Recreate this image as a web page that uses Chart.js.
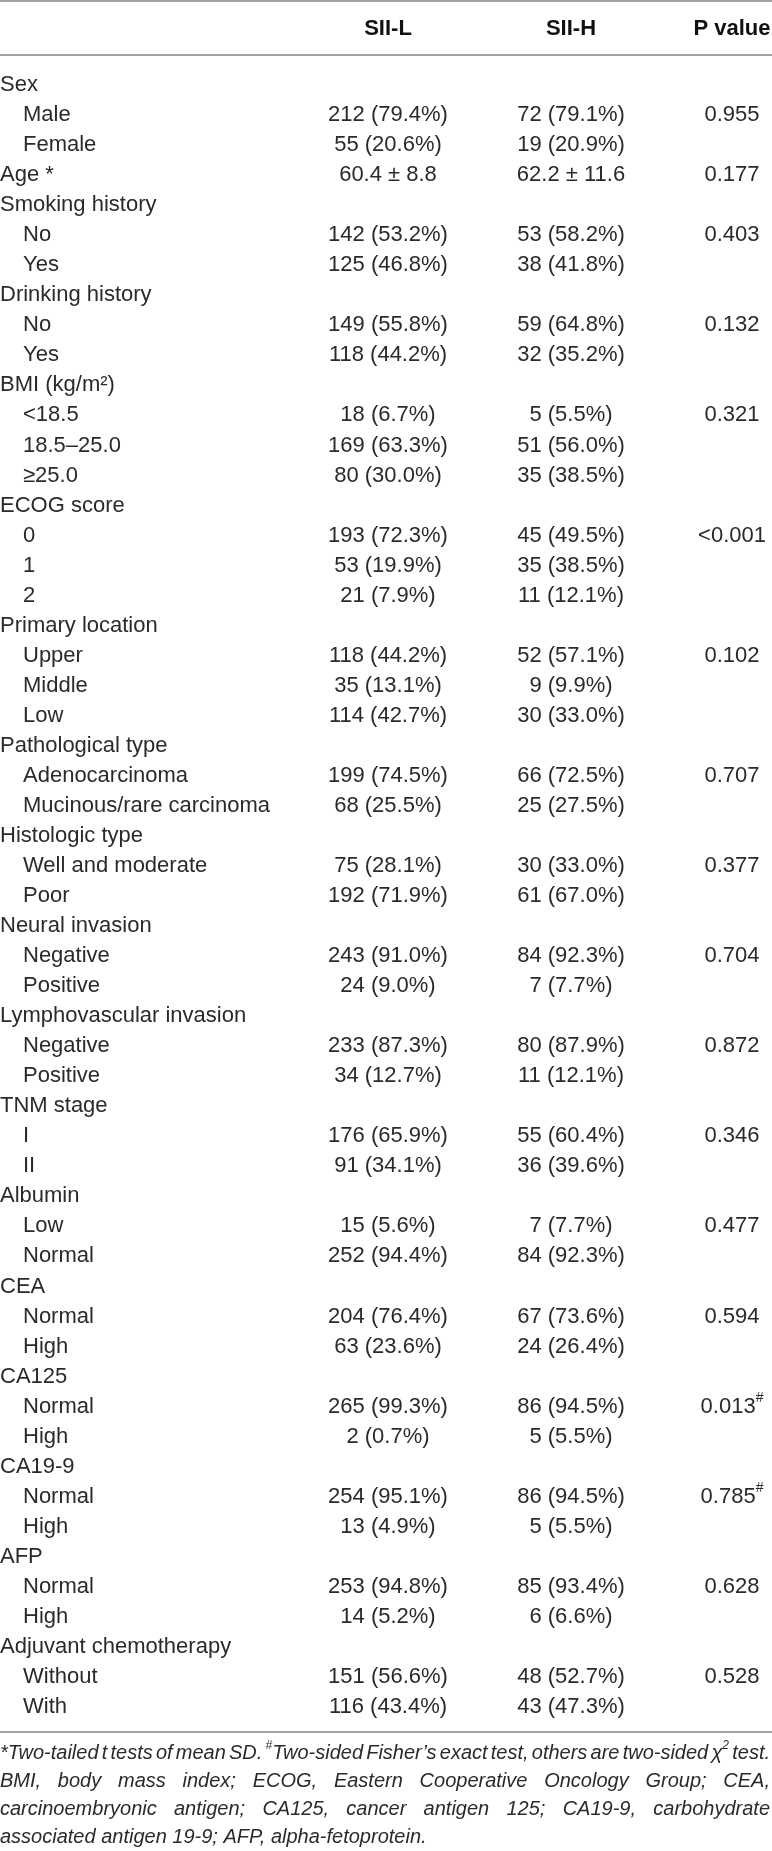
<!DOCTYPE html>
<html>
<head>
<meta charset="utf-8">
<script src="https://cdn.jsdelivr.net/npm/chart.js@4"></script>
<style>
  html, body { margin: 0; padding: 0; background: #fff; }
  canvas { display: block; }
</style>
</head>
<body>
<canvas id="tabela" width="772" height="1851"></canvas>
<script>
// column headers
const headers = ['SII-L', 'SII-H', 'P value'];

// first column (variables and their levels)
const rowLabels = [
  'Sex', 'Male', 'Female', 'Age *',
  'Smoking history', 'No', 'Yes',
  'Drinking history', 'No', 'Yes',
  'BMI (kg/m²)', '<18.5', '18.5–25.0', '≥25.0',
  'ECOG score', '0', '1', '2',
  'Primary location', 'Upper', 'Middle', 'Low',
  'Pathological type', 'Adenocarcinoma', 'Mucinous/rare carcinoma',
  'Histologic type', 'Well and moderate', 'Poor',
  'Neural invasion', 'Negative', 'Positive',
  'Lymphovascular invasion', 'Negative', 'Positive',
  'TNM stage', 'I', 'II',
  'Albumin', 'Low', 'Normal',
  'CEA', 'Normal', 'High',
  'CA125', 'Normal', 'High',
  'CA19-9', 'Normal', 'High',
  'AFP', 'Normal', 'High',
  'Adjuvant chemotherapy', 'Without', 'With'
];

// levels are indented under their variable
const subRow = [
  false, true, true, false,
  false, true, true,
  false, true, true,
  false, true, true, true,
  false, true, true, true,
  false, true, true, true,
  false, true, true,
  false, true, true,
  false, true, true,
  false, true, true,
  false, true, true,
  false, true, true,
  false, true, true,
  false, true, true,
  false, true, true,
  false, true, true,
  false, true, true
];

const siiL = [
  '', '212 (79.4%)', '55 (20.6%)', '60.4 ± 8.8',
  '', '142 (53.2%)', '125 (46.8%)',
  '', '149 (55.8%)', '118 (44.2%)',
  '', '18 (6.7%)', '169 (63.3%)', '80 (30.0%)',
  '', '193 (72.3%)', '53 (19.9%)', '21 (7.9%)',
  '', '118 (44.2%)', '35 (13.1%)', '114 (42.7%)',
  '', '199 (74.5%)', '68 (25.5%)',
  '', '75 (28.1%)', '192 (71.9%)',
  '', '243 (91.0%)', '24 (9.0%)',
  '', '233 (87.3%)', '34 (12.7%)',
  '', '176 (65.9%)', '91 (34.1%)',
  '', '15 (5.6%)', '252 (94.4%)',
  '', '204 (76.4%)', '63 (23.6%)',
  '', '265 (99.3%)', '2 (0.7%)',
  '', '254 (95.1%)', '13 (4.9%)',
  '', '253 (94.8%)', '14 (5.2%)',
  '', '151 (56.6%)', '116 (43.4%)'
];

const siiH = [
  '', '72 (79.1%)', '19 (20.9%)', '62.2 ± 11.6',
  '', '53 (58.2%)', '38 (41.8%)',
  '', '59 (64.8%)', '32 (35.2%)',
  '', '5 (5.5%)', '51 (56.0%)', '35 (38.5%)',
  '', '45 (49.5%)', '35 (38.5%)', '11 (12.1%)',
  '', '52 (57.1%)', '9 (9.9%)', '30 (33.0%)',
  '', '66 (72.5%)', '25 (27.5%)',
  '', '30 (33.0%)', '61 (67.0%)',
  '', '84 (92.3%)', '7 (7.7%)',
  '', '80 (87.9%)', '11 (12.1%)',
  '', '55 (60.4%)', '36 (39.6%)',
  '', '7 (7.7%)', '84 (92.3%)',
  '', '67 (73.6%)', '24 (26.4%)',
  '', '86 (94.5%)', '5 (5.5%)',
  '', '86 (94.5%)', '5 (5.5%)',
  '', '85 (93.4%)', '6 (6.6%)',
  '', '48 (52.7%)', '43 (47.3%)'
];

// ^ marks a superscript character
const pValues = [
  '', '0.955', '', '0.177',
  '', '0.403', '',
  '', '0.132', '',
  '', '0.321', '', '',
  '', '<0.001', '', '',
  '', '0.102', '', '',
  '', '0.707', '',
  '', '0.377', '',
  '', '0.704', '',
  '', '0.872', '',
  '', '0.346', '',
  '', '0.477', '',
  '', '0.594', '',
  '', '0.013^#', '',
  '', '0.785^#', '',
  '', '0.628', '',
  '', '0.528', ''
];

const footnotes = [
  '*Two-tailed t tests of mean SD. ^#Two-sided Fisher’s exact test, others are two-sided χ^2 test.',
  'BMI, body mass index; ECOG, Eastern Cooperative Oncology Group; CEA,',
  'carcinoembryonic antigen; CA125, cancer antigen 125; CA19-9, carbohydrate',
  'associated antigen 19-9; AFP, alpha-fetoprotein.'
];

// layout
const W = 772;
const colX = { label: 0, siiL: 388, siiH: 571, p: 732 };
const INDENT = 23;
const FONT = '"Liberation Sans", Arial, Helvetica, sans-serif';
const COR_TEXTO = '#2a2a2a';
const COR_LINHA = '#a3a3a3';

function partes(texto) {
  const out = [];
  for (let i = 0; i < texto.length; i++) {
    if (texto[i] === '^' && i + 1 < texto.length) {
      out.push({ t: texto[i + 1], sup: true });
      i++;
    } else if (out.length && !out[out.length - 1].sup) {
      out[out.length - 1].t += texto[i];
    } else {
      out.push({ t: texto[i], sup: false });
    }
  }
  return out;
}

function fonte(size, estilo, sup) {
  return estilo + ' ' + (sup ? Math.round(size * 0.62) : size) + 'px ' + FONT;
}

function medir(ctx, texto, size, estilo) {
  let w = 0;
  partes(texto).forEach(function (p) {
    ctx.font = fonte(size, estilo, p.sup);
    w += ctx.measureText(p.t).width;
  });
  return w;
}

function escrever(ctx, texto, x, y, align, size, estilo) {
  const w = medir(ctx, texto, size, estilo);
  let cx = align === 'center' ? x - w / 2 : (align === 'right' ? x - w : x);
  ctx.textBaseline = 'middle';
  ctx.textAlign = 'left';
  partes(texto).forEach(function (p) {
    ctx.font = fonte(size, estilo, p.sup);
    ctx.fillText(p.t, cx, p.sup ? y - size * 0.38 : y);
    cx += ctx.measureText(p.t).width;
  });
}

function escreverJustificado(ctx, texto, x, y, largura, size, estilo) {
  const palavras = texto.split(' ');
  const larguras = palavras.map(function (p) { return medir(ctx, p, size, estilo); });
  const soma = larguras.reduce(function (a, b) { return a + b; }, 0);
  const gap = (largura - soma) / (palavras.length - 1);
  let cx = x;
  palavras.forEach(function (p, i) {
    escrever(ctx, p, cx, y, 'left', size, estilo);
    cx += larguras[i] + gap;
  });
}

const pluginTabela = {
  id: 'tabela',
  beforeDatasetsDraw(chart) {
    const ctx = chart.ctx;
    const area = chart.chartArea;
    ctx.save();
    ctx.strokeStyle = COR_LINHA;
    ctx.lineWidth = 2;
    [1, area.top - 15, area.bottom + 10].forEach(function (y) {
      ctx.beginPath();
      ctx.moveTo(0, y);
      ctx.lineTo(W, y);
      ctx.stroke();
    });

    ctx.fillStyle = '#111';
    const xs = chart.scales.x;
    [colX.siiL, colX.siiH, colX.p].forEach(function (cx, i) {
      escrever(ctx, headers[i], xs.getPixelForValue(cx), area.top - 41, 'center', 22, 'bold');
    });

    ctx.fillStyle = COR_TEXTO;
    footnotes.forEach(function (linha, i) {
      const y = area.bottom + 31 + i * 28;
      if (i < footnotes.length - 1) {
        escreverJustificado(ctx, linha, 0, y, W - 2, 20, 'italic');
      } else {
        escrever(ctx, linha, 0, y, 'left', 20, 'italic');
      }
    });
    ctx.restore();
  },
  afterDatasetsDraw(chart) {
    const ctx = chart.ctx;
    ctx.save();
    ctx.fillStyle = COR_TEXTO;
    chart.data.datasets.forEach(function (ds, d) {
      const meta = chart.getDatasetMeta(d);
      meta.data.forEach(function (el, i) {
        const txt = ds.data[i].texto;
        if (!txt) return;
        const x = ds.align === 'left' && subRow[i] ? el.x + INDENT : el.x;
        escrever(ctx, txt, x, el.y, ds.align, 22, 'normal');
      });
    });
    ctx.restore();
  }
};

function coluna(valores, x, align) {
  return {
    data: valores.map(function (v, i) { return { x: x, y: i, texto: v }; }),
    align: align,
    pointRadius: 0,
    pointHoverRadius: 0,
    showLine: false
  };
}

new Chart(document.getElementById('tabela'), {
  type: 'scatter',
  data: {
    datasets: [
      coluna(rowLabels, colX.label, 'left'),
      coluna(siiL, colX.siiL, 'center'),
      coluna(siiH, colX.siiH, 'center'),
      coluna(pValues, colX.p, 'center')
    ]
  },
  options: {
    responsive: false,
    animation: false,
    devicePixelRatio: 1,
    layout: { padding: { top: 70, bottom: 129, left: 0, right: 0 } },
    scales: {
      x: { type: 'linear', min: 0, max: W, display: false },
      y: { type: 'linear', min: -0.5, max: rowLabels.length - 0.5, reverse: true, display: false }
    },
    plugins: {
      legend: { display: false },
      tooltip: { enabled: false }
    }
  },
  plugins: [pluginTabela]
});
</script>
</body>
</html>
